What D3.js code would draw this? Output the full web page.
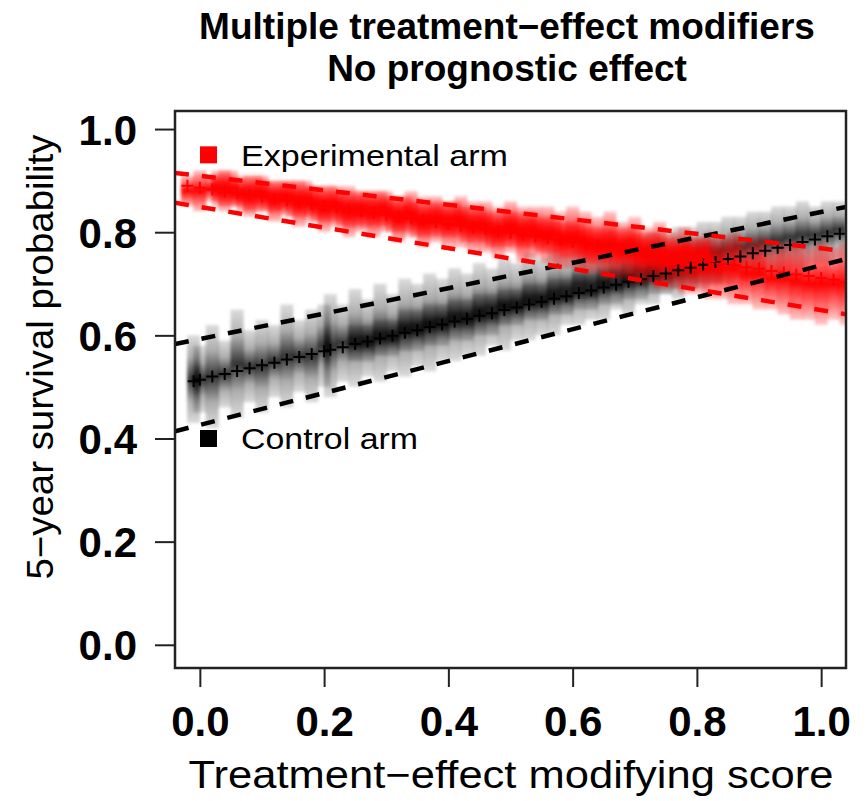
<!DOCTYPE html>
<html>
<head>
<meta charset="utf-8">
<script src="https://cdn.jsdelivr.net/npm/d3@7"></script>
<style>
  body { margin: 0; background: #fff; }
  text { font-family: 'Liberation Sans', Arial, Helvetica, sans-serif; }
</style>
</head>
<body>
<div id="chart"></div>
<script>
// control arm: score, fitted survival, interval of each simulated estimate
const ctrlScore = [-0.01, 0.00, 0.02, 0.04, 0.06, 0.08, 0.10, 0.12, 0.14, 0.16, 0.18, 0.20,
  0.21, 0.23, 0.25, 0.27, 0.29, 0.31, 0.33, 0.35, 0.37, 0.39, 0.41, 0.43, 0.45, 0.47, 0.49,
  0.51, 0.53, 0.55, 0.57, 0.59, 0.61, 0.63, 0.65, 0.67, 0.69, 0.71, 0.73, 0.75, 0.77, 0.79,
  0.81, 0.83, 0.85, 0.87, 0.89, 0.91, 0.93, 0.95, 0.97, 0.99, 1.01, 1.03]
const ctrlMid = [0.511, 0.514, 0.520, 0.525, 0.531, 0.536, 0.542, 0.547, 0.553, 0.558, 0.564, 0.569,
  0.572, 0.577, 0.583, 0.588, 0.594, 0.599, 0.605, 0.610, 0.616, 0.621, 0.627, 0.632, 0.638, 0.643, 0.649,
  0.654, 0.660, 0.665, 0.671, 0.676, 0.682, 0.687, 0.693, 0.698, 0.704, 0.709, 0.715, 0.720, 0.726, 0.731,
  0.737, 0.742, 0.748, 0.753, 0.759, 0.764, 0.770, 0.775, 0.781, 0.786, 0.792, 0.797]
const ctrlLo = [0.43, 0.45, 0.42, 0.46, 0.44, 0.47, 0.45, 0.48, 0.46, 0.49, 0.47, 0.50,
  0.48, 0.51, 0.50, 0.52, 0.51, 0.53, 0.52, 0.54, 0.53, 0.55, 0.55, 0.56, 0.56, 0.58, 0.57,
  0.59, 0.59, 0.60, 0.60, 0.62, 0.62, 0.63, 0.63, 0.65, 0.64, 0.66, 0.66, 0.68, 0.67, 0.69,
  0.69, 0.70, 0.70, 0.71, 0.71, 0.72, 0.72, 0.73, 0.73, 0.74, 0.74, 0.75]
const ctrlHi = [0.60, 0.58, 0.62, 0.59, 0.65, 0.61, 0.63, 0.62, 0.66, 0.63, 0.65, 0.66,
  0.68, 0.66, 0.69, 0.67, 0.70, 0.68, 0.71, 0.70, 0.72, 0.71, 0.73, 0.72, 0.74, 0.73, 0.75,
  0.74, 0.76, 0.75, 0.77, 0.76, 0.78, 0.77, 0.78, 0.78, 0.79, 0.79, 0.80, 0.80, 0.81, 0.81,
  0.82, 0.82, 0.83, 0.83, 0.84, 0.84, 0.85, 0.85, 0.86, 0.85, 0.86, 0.86]
// more tightly estimated control runs in the dense middle of the score range
const ctrlDenseScore = [0.26, 0.30, 0.34, 0.38, 0.42, 0.46, 0.50, 0.54, 0.58, 0.62, 0.66, 0.70, 0.74, 0.78, 0.82]
const ctrlDenseLo = [0.55, 0.56, 0.57, 0.58, 0.59, 0.60, 0.62, 0.63, 0.64, 0.65, 0.66, 0.67, 0.68, 0.69, 0.70]
const ctrlDenseHi = [0.62, 0.63, 0.65, 0.66, 0.67, 0.68, 0.69, 0.70, 0.71, 0.72, 0.73, 0.74, 0.75, 0.76, 0.77]

// experimental arm
const expScore = [-0.02, 0.00, 0.02, 0.04, 0.06, 0.08, 0.10, 0.12, 0.14, 0.16, 0.18, 0.20,
  0.22, 0.24, 0.26, 0.28, 0.30, 0.32, 0.34, 0.36, 0.38, 0.40, 0.42, 0.44, 0.46, 0.48, 0.50,
  0.52, 0.54, 0.56, 0.58, 0.60, 0.62, 0.64, 0.66, 0.68, 0.70, 0.72, 0.74, 0.76, 0.78, 0.80,
  0.82, 0.84, 0.86, 0.88, 0.90, 0.92, 0.94, 0.96, 0.98, 1.00, 1.02, 1.04]
const expMid = [0.890, 0.886, 0.883, 0.879, 0.876, 0.872, 0.869, 0.865, 0.862, 0.858, 0.855, 0.851,
  0.848, 0.844, 0.841, 0.837, 0.834, 0.830, 0.827, 0.823, 0.820, 0.816, 0.813, 0.809, 0.806, 0.802, 0.799,
  0.795, 0.792, 0.788, 0.785, 0.781, 0.778, 0.774, 0.771, 0.767, 0.764, 0.760, 0.757, 0.753, 0.750, 0.746,
  0.743, 0.739, 0.736, 0.732, 0.729, 0.725, 0.722, 0.718, 0.715, 0.711, 0.708, 0.704]
const expLo = [0.85, 0.84, 0.86, 0.84, 0.85, 0.83, 0.84, 0.82, 0.83, 0.81, 0.82, 0.80,
  0.81, 0.79, 0.80, 0.79, 0.80, 0.78, 0.79, 0.77, 0.78, 0.77, 0.77, 0.76, 0.76, 0.75, 0.76,
  0.74, 0.75, 0.74, 0.73, 0.73, 0.72, 0.72, 0.71, 0.71, 0.70, 0.70, 0.69, 0.69, 0.68, 0.68,
  0.67, 0.67, 0.66, 0.66, 0.65, 0.65, 0.64, 0.63, 0.63, 0.62, 0.63, 0.62]
const expHi = [0.91, 0.92, 0.91, 0.92, 0.90, 0.91, 0.91, 0.90, 0.90, 0.90, 0.89, 0.89,
  0.89, 0.89, 0.88, 0.88, 0.88, 0.87, 0.88, 0.87, 0.87, 0.86, 0.87, 0.86, 0.86, 0.85, 0.86,
  0.85, 0.85, 0.85, 0.84, 0.85, 0.84, 0.83, 0.84, 0.82, 0.83, 0.81, 0.82, 0.80, 0.81, 0.79,
  0.80, 0.79, 0.80, 0.78, 0.79, 0.77, 0.78, 0.78, 0.77, 0.78, 0.77, 0.78]
const expDenseScore = [0.04, 0.08, 0.12, 0.16, 0.20, 0.24, 0.28, 0.32, 0.36, 0.40,
  0.44, 0.48, 0.52, 0.56, 0.60, 0.64, 0.68, 0.72, 0.76, 0.80]
const expDenseLo = [0.85, 0.84, 0.84, 0.83, 0.82, 0.81, 0.81, 0.80, 0.79, 0.79,
  0.78, 0.77, 0.77, 0.76, 0.75, 0.74, 0.74, 0.73, 0.72, 0.72]
const expDenseHi = [0.92, 0.91, 0.90, 0.90, 0.89, 0.88, 0.88, 0.87, 0.86, 0.86,
  0.85, 0.84, 0.84, 0.83, 0.82, 0.81, 0.81, 0.80, 0.79, 0.79]

// dashed pointwise bounds (score at the two ends of the plot)
const boundScore = [-0.04, 1.04]
const ctrlUpper = [0.583, 0.849]
const ctrlLower = [0.414, 0.748]
const expUpper = [0.915, 0.763]
const expLower = [0.857, 0.641]

const tickValues = [0, 0.2, 0.4, 0.6, 0.8, 1.0]

const width = 867, height = 801
const margin = { top: 111, right: 21, bottom: 133, left: 175 }
const font = "'Liberation Sans', Arial, Helvetica, sans-serif"

const svg = d3.select('#chart').append('svg')
  .attr('width', width)
  .attr('height', height)

const x = d3.scaleLinear().domain([-0.04, 1.04]).range([margin.left, width - margin.right])
const y = d3.scaleLinear().domain([-0.045, 1.035]).range([height - margin.bottom, margin.top])

const defs = svg.append('defs')
defs.append('clipPath').attr('id', 'plot')
  .append('rect')
  .attr('x', margin.left).attr('y', margin.top)
  .attr('width', width - margin.left - margin.right)
  .attr('height', height - margin.top - margin.bottom)

const gradient = (id, color, stops) => {
  const g = defs.append('linearGradient').attr('id', id)
    .attr('x1', 0).attr('y1', 0).attr('x2', 0).attr('y2', 1)
  stops.forEach(([o, a]) => g.append('stop')
    .attr('offset', o).attr('stop-color', color).attr('stop-opacity', a))
}
gradient('gradCtrl', '#000', [[0, 0.14], [0.25, 0.32], [0.5, 0.8], [0.75, 0.32], [1, 0.14]])
gradient('gradExp', '#ff0000', [[0, 0.2], [0.25, 0.6], [0.5, 1], [0.75, 0.6], [1, 0.2]])

defs.append('filter').attr('id', 'soft')
  .attr('x', '-10%').attr('y', '-10%').attr('width', '120%').attr('height', '120%')
  .append('feGaussianBlur').attr('stdDeviation', 1.4)

const plot = svg.append('g').attr('clip-path', 'url(#plot)')

// interval bars
const drawBars = (scores, lo, hi, fill, w) => {
  plot.append('g')
    .attr('filter', 'url(#soft)')
    .selectAll('rect')
    .data(scores.map((s, i) => ({ s, lo: lo[i], hi: hi[i] })))
    .join('rect')
    .attr('x', d => x(d.s) - w / 2)
    .attr('width', w)
    .attr('y', d => y(d.hi))
    .attr('height', d => y(d.lo) - y(d.hi))
    .attr('fill', fill)
}
drawBars(ctrlScore, ctrlLo, ctrlHi, 'url(#gradCtrl)', 13)
drawBars(ctrlDenseScore, ctrlDenseLo, ctrlDenseHi, 'url(#gradCtrl)', 26)
drawBars(expScore, expLo, expHi, 'url(#gradExp)', 13)
drawBars(expDenseScore, expDenseLo, expDenseHi, 'url(#gradExp)', 26)

// fitted values as "+" symbols
const drawPlus = (scores, mids, color) => {
  plot.append('g')
    .selectAll('path')
    .data(scores.map((s, i) => ({ s, m: mids[i] })))
    .join('path')
    .attr('d', d => {
      const cx = x(d.s), cy = y(d.m)
      return `M${cx - 6},${cy}H${cx + 6}M${cx},${cy - 6}V${cy + 6}`
    })
    .attr('stroke', color)
    .attr('stroke-width', 2)
    .attr('fill', 'none')
}
drawPlus(ctrlScore, ctrlMid, '#000')
drawPlus(expScore, expMid, '#ff0000')

// dashed bounds
const line = d3.line().x(d => x(d[0])).y(d => y(d[1]))
const drawDashed = (vals, color) => {
  plot.append('path')
    .datum(boundScore.map((s, i) => [s, vals[i]]))
    .attr('d', line)
    .attr('fill', 'none')
    .attr('stroke', color)
    .attr('stroke-width', 4.5)
    .attr('stroke-dasharray', '14 13')
}
drawDashed(ctrlUpper, '#000')
drawDashed(ctrlLower, '#000')
drawDashed(expUpper, '#ff0000')
drawDashed(expLower, '#ff0000')

// frame
svg.append('rect')
  .attr('x', margin.left).attr('y', margin.top)
  .attr('width', width - margin.left - margin.right)
  .attr('height', height - margin.top - margin.bottom)
  .attr('fill', 'none')
  .attr('stroke', '#222')
  .attr('stroke-width', 2.5)

// axes
const yAxis = g => g
  .attr('transform', `translate(${margin.left - 1},0)`)
  .call(d3.axisLeft(y).tickValues(tickValues).tickSize(19).tickPadding(18).tickFormat(d3.format('.1f')))
  .call(g => g.select('.domain').remove())
  .call(g => g.selectAll('.tick line').attr('stroke', '#222').attr('stroke-width', 2))
  .call(g => g.selectAll('.tick text')
    .attr('dy', '0.36em')
    .attr('fill', '#000')
    .style('font-family', font)
    .style('font-size', '42px')
    .style('font-weight', 'bold'))

const xAxis = g => g
  .attr('transform', `translate(0,${height - margin.bottom})`)
  .call(d3.axisBottom(x).tickValues(tickValues).tickSize(19).tickPadding(19).tickFormat(d3.format('.1f')))
  .call(g => g.select('.domain').remove())
  .call(g => g.selectAll('.tick line').attr('stroke', '#222').attr('stroke-width', 2))
  .call(g => g.selectAll('.tick text')
    .attr('fill', '#000')
    .style('font-family', font)
    .style('font-size', '42px')
    .style('font-weight', 'bold'))

svg.append('g').call(yAxis)
svg.append('g').call(xAxis)

// titles
const title = svg.append('g')
  .attr('text-anchor', 'middle')
  .style('font-weight', 'bold')
  .style('font-size', '37px')
title.append('text').attr('x', 507).attr('y', 39).text('Multiple treatment\u2212effect modifiers')
title.append('text').attr('x', 507).attr('y', 81).text('No prognostic effect')

svg.append('text')
  .attr('x', 511).attr('y', 788)
  .attr('text-anchor', 'middle')
  .attr('textLength', 645)
  .attr('lengthAdjust', 'spacingAndGlyphs')
  .style('font-size', '38px')
  .text('Treatment\u2212effect modifying score')

svg.append('text')
  .attr('transform', 'translate(53,357) rotate(-90)')
  .attr('text-anchor', 'middle')
  .attr('textLength', 445)
  .attr('lengthAdjust', 'spacingAndGlyphs')
  .style('font-size', '37px')
  .text('5\u2212year survival probability')

// legend
const legend = [
  { label: 'Experimental arm', color: '#ff0000', value: 0.95, len: 267 },
  { label: 'Control arm', color: '#000', value: 0.40, len: 177 }
]
const leg = svg.append('g').selectAll('g').data(legend).join('g')
  .attr('transform', d => `translate(200,${y(d.value)})`)
leg.append('rect')
  .attr('x', 0).attr('y', -8.5).attr('width', 17).attr('height', 17)
  .attr('fill', d => d.color)
leg.append('text')
  .attr('x', 41).attr('y', 11)
  .attr('textLength', d => d.len)
  .attr('lengthAdjust', 'spacingAndGlyphs')
  .style('font-size', '29px')
  .text(d => d.label)
</script>
</body>
</html>
